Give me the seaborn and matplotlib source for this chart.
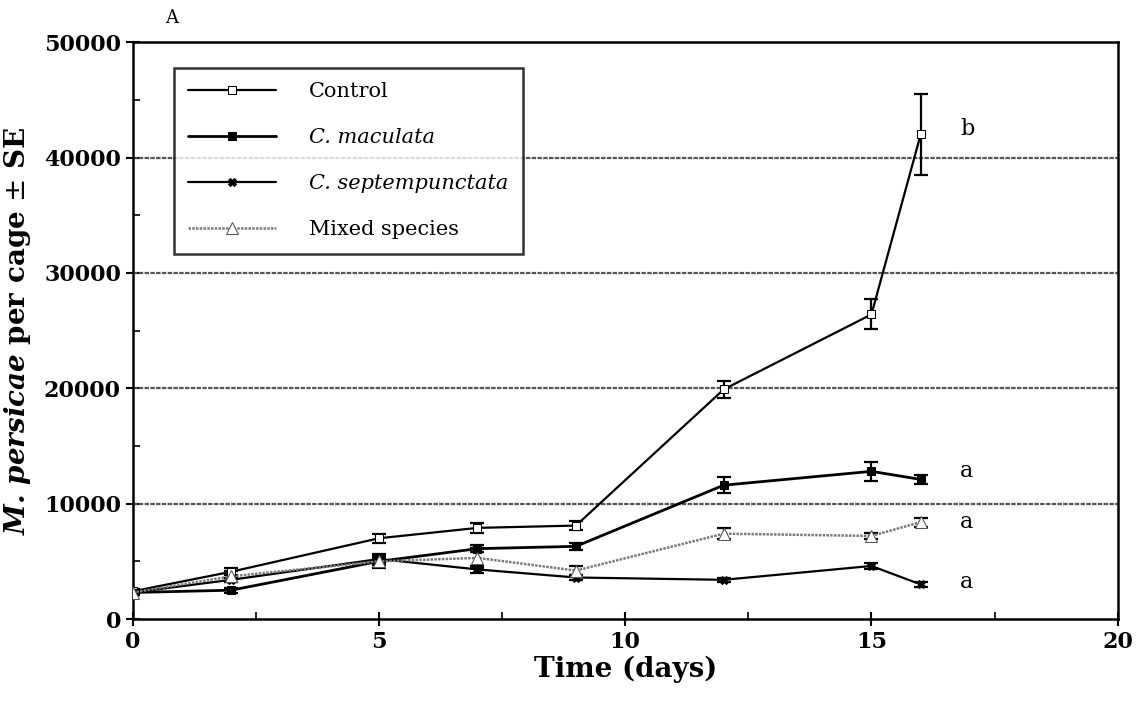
import numpy as np
import pandas as pd
import seaborn as sns
import matplotlib.pyplot as plt
from matplotlib.ticker import MultipleLocator

days = [0, 2, 5, 7, 9, 12, 15, 16]
control = [2400, 4100, 7000, 7900, 8100, 19900, 26400, 42000]
control_se = [200, 300, 400, 400, 400, 700, 1300, 3500]
maculata = [2300, 2500, 5000, 6100, 6300, 11600, 12800, 12100]
maculata_se = [200, 200, 300, 300, 300, 700, 800, 400]
septem = [2300, 3400, 5200, 4300, 3600, 3400, 4600, 3000]
septem_se = [100, 200, 300, 300, 200, 200, 300, 200]
mixed = [2300, 3700, 5000, 5300, 4200, 7400, 7200, 8400]
mixed_se = [200, 500, 600, 900, 400, 500, 300, 400]
labels = ["Control", "C. maculata", "C. septempunctata", "Mixed species"]
letters = ["b", "a", "a", "a"]
letter_y = [42500, 12800, 8400, 3200]

sns.set_style("white")
plt.rcParams['font.family'] = ['DejaVu Serif', 'DejaVu Sans']
plt.rcParams['mathtext.fontset'] = 'dejavuserif'
for k in ['text.color', 'axes.labelcolor', 'xtick.color', 'ytick.color']:
    plt.rcParams[k] = 'black'

fig, ax = plt.subplots(figsize=(11.44, 7.14), dpi=100)
fig.subplots_adjust(left=0.116, right=0.977, top=0.941, bottom=0.133)

series = [control, maculata, septem, mixed]
ses = [control_se, maculata_se, septem_se, mixed_se]
styles = [
    dict(color="black", marker="s", mfc="white", mec="black", ms=6, lw=1.6),
    dict(color="black", marker="s", mfc="black", mec="black", ms=6, lw=2.0),
    dict(color="black", marker="X", mfc="black", mec="black", ms=6, lw=1.6),
    dict(color="#7a7a7a", marker="^", mfc="white", mec="#555555", ms=8, lw=1.8, ls=(0, (1, 0.5))),
]

for vals, se, st, lab in zip(series, ses, styles, labels):
    df = pd.DataFrame({"day": days, "n": vals})
    sns.lineplot(data=df, x="day", y="n", ax=ax, label=lab, zorder=3, **st)
    ax.errorbar(days, vals, yerr=se, fmt="none", ecolor="black", elinewidth=1.6,
                capsize=5, capthick=1.6, zorder=2)

for l, yv in zip(letters, letter_y):
    ax.text(16.8, yv, l, fontsize=16, va="center", ha="left")

ax.set_xlim(0, 20)
ax.set_ylim(0, 50000)
ax.xaxis.set_major_locator(MultipleLocator(5))
ax.xaxis.set_minor_locator(MultipleLocator(2.5))
ax.yaxis.set_major_locator(MultipleLocator(10000))
ax.yaxis.set_minor_locator(MultipleLocator(5000))
ax.tick_params(axis="x", which="major", direction="inout", length=10, width=1.5, labelsize=16)
ax.tick_params(axis="x", which="minor", direction="in", length=5, width=1.2)
ax.tick_params(axis="y", which="major", direction="inout", length=10, width=1.5, labelsize=16)
ax.tick_params(axis="y", which="minor", direction="in", length=5, width=1.2)
ax.tick_params(bottom=True, left=True, which="both")
for lbl in ax.get_xticklabels() + ax.get_yticklabels():
    lbl.set_fontweight("bold")

for y in [10000, 20000, 30000, 40000]:
    ax.axhline(y, color="#555555", lw=1.6, ls=(0, (2, 0.6)), zorder=1)

for s in ax.spines.values():
    s.set_color("black")
    s.set_linewidth(1.8)

ax.set_xlabel("Time (days)", fontsize=20, fontweight="bold", labelpad=2)
ax.set_ylabel("$\\mathbfit{M.\\,persicae}$ per cage $\\pm$ SE", fontsize=20,
              fontweight="bold", labelpad=8)

leg = ax.legend(loc="upper left", bbox_to_anchor=(0.031, 0.974), fontsize=15,
                frameon=True, fancybox=False, handlelength=4.2, labelspacing=1.3,
                borderpad=0.7, handletextpad=1.6)
leg.get_frame().set_edgecolor("black")
leg.get_frame().set_linewidth(1.8)
for t in leg.get_texts()[1:3]:
    t.set_fontstyle("italic")

fig.text(0.15, 0.975, "A", fontsize=13, ha="center", va="center")

fig.savefig("out.png", dpi=100)
